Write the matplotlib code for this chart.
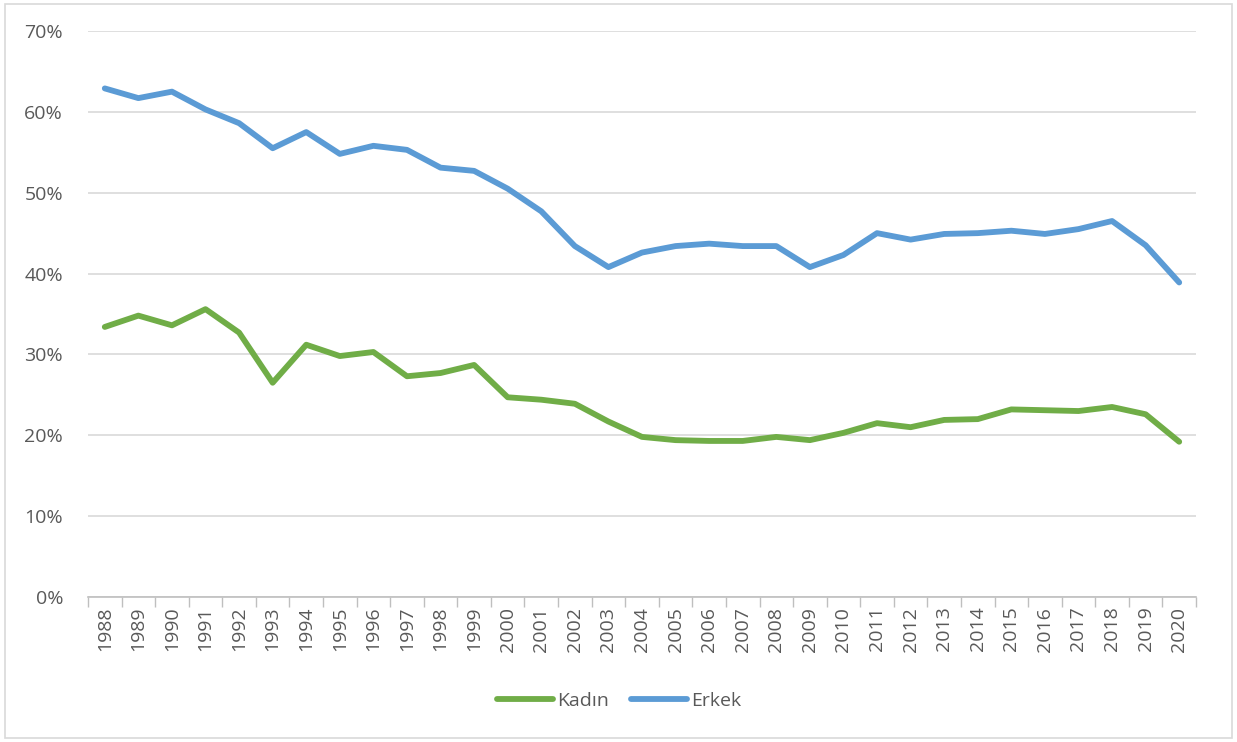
import numpy as np
import matplotlib.pyplot as plt
from matplotlib.patches import Rectangle
from matplotlib.ticker import PercentFormatter, FixedLocator, NullFormatter

plt.rcParams['font.family'] = ['Open Sans', 'DejaVu Sans']

# veri
years = list(range(1988, 2021))
kadin = [33.4, 34.8, 33.6, 35.6, 32.7, 26.5, 31.2, 29.8, 30.3, 27.3, 27.7, 28.7,
         24.7, 24.4, 23.9, 21.7, 19.8, 19.4, 19.3, 19.3, 19.8, 19.4, 20.3, 21.5,
         21.0, 21.9, 22.0, 23.2, 23.1, 23.0, 23.5, 22.6, 19.2]
erkek = [62.9, 61.7, 62.5, 60.3, 58.6, 55.5, 57.5, 54.8, 55.8, 55.3, 53.1, 52.7,
         50.5, 47.7, 43.4, 40.8, 42.6, 43.4, 43.7, 43.4, 43.4, 40.8, 42.3, 45.0,
         44.2, 44.9, 45.0, 45.3, 44.9, 45.5, 46.5, 43.5, 38.9]

green = '#70AD47'
blue = '#5B9BD5'
txt = '#595959'

fig = plt.figure(figsize=(12.37, 7.42), dpi=100)
ax = fig.add_axes([88/1237, 1-597/742, (1196-88)/1237, (597-31)/742])

x = np.arange(len(years))
ax.plot(x, kadin, color=green, lw=4.2, label='Kadın', solid_capstyle='round', solid_joinstyle='round')
ax.plot(x, erkek, color=blue, lw=4.2, label='Erkek', solid_capstyle='round', solid_joinstyle='round')

ax.set_xlim(-0.5, len(years) - 0.5)
ax.set_ylim(0, 70)
ax.yaxis.set_major_locator(FixedLocator(np.arange(0, 71, 10)))
ax.yaxis.set_major_formatter(PercentFormatter(decimals=0))
ax.grid(axis='y', color='#d9d9d9', lw=1.2)
ax.set_axisbelow(True)

# x ekseni: etiketler ortada, çentikler sınırlarda
ax.set_xticks(x)
ax.set_xticklabels([str(y) for y in years], rotation=90)
ax.set_xticks(np.arange(-0.5, len(years)), minor=True)
ax.xaxis.set_minor_formatter(NullFormatter())
ax.tick_params(axis='x', which='major', length=0, pad=7, labelsize=14, labelcolor=txt)
ax.tick_params(axis='x', which='minor', length=7, color='#bfbfbf', width=1)
ax.tick_params(axis='y', length=0, pad=18, labelsize=14, labelcolor=txt)

for s in ['top', 'right', 'left']:
    ax.spines[s].set_visible(False)
ax.spines['bottom'].set_color('#bfbfbf')
ax.spines['bottom'].set_linewidth(1.2)

leg = fig.legend(loc='center', bbox_to_anchor=(619/1237, 1-701/742), ncol=2, frameon=False,
                 fontsize=14, handlelength=2.9, handletextpad=0.2, columnspacing=1.1)
for t in leg.get_texts():
    t.set_color(txt)

fig.patches.append(Rectangle((5/1237, 4/742), 1227/1237, 734/742, transform=fig.transFigure,
                             fill=False, edgecolor='#d9d9d9', lw=1.2))

plt.savefig('out.png', dpi=100)
